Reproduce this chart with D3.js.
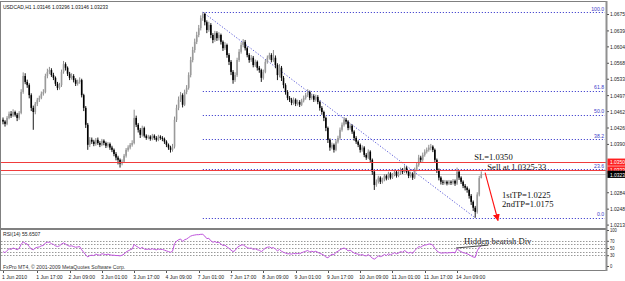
<!DOCTYPE html>
<html><head><meta charset="utf-8">
<script src="https://cdn.jsdelivr.net/npm/d3@7/dist/d3.min.js"></script>
<style>html,body{margin:0;padding:0;background:#fff;overflow:hidden}svg{display:block}</style>
</head><body>
<svg id="chart" width="625" height="281"></svg>
<script>
// ---------------- DATA ----------------
const titleText = "USDCAD,H1  1.03146 1.03296 1.03146 1.03233";
const copyrightText = "FxPro MT4, \u00A9 2001-2009 MetaQuotes Software Corp.";
const rsiTitle = "RSI(14) 55.6507";
const firstOpen = 1.0443;
const closes = [
1.0439,1.0434,1.0447,1.0456,1.0452,1.0460,1.0454,1.0447,1.0458,1.0504,
1.0539,1.0526,1.0519,1.0497,1.0469,1.0460,1.0478,1.0487,1.0491,1.0500,
1.0504,1.0539,1.0548,1.0552,1.0541,1.0535,1.0522,1.0513,1.0519,1.0548,
1.0565,1.0557,1.0544,1.0535,1.0539,1.0530,1.0522,1.0526,1.0530,1.0497,
1.0469,1.0432,1.0388,1.0399,1.0395,1.0390,1.0399,1.0392,1.0388,1.0397,
1.0392,1.0386,1.0390,1.0382,1.0377,1.0368,1.0360,1.0355,1.0347,1.0351,
1.0364,1.0377,1.0382,1.0388,1.0392,1.0447,1.0432,1.0421,1.0410,1.0425,
1.0408,1.0403,1.0406,1.0401,1.0408,1.0403,1.0399,1.0406,1.0403,1.0401,
1.0395,1.0388,1.0382,1.0377,1.0384,1.0443,1.0469,1.0487,1.0497,1.0476,
1.0504,1.0513,1.0541,1.0574,1.0596,1.0614,1.0629,1.0644,1.0666,1.0675,
1.0657,1.0640,1.0651,1.0629,1.0618,1.0633,1.0622,1.0629,1.0614,1.0600,
1.0607,1.0585,1.0570,1.0548,1.0530,1.0541,1.0574,1.0592,1.0607,1.0614,
1.0600,1.0585,1.0574,1.0579,1.0563,1.0570,1.0557,1.0552,1.0535,1.0548,
1.0570,1.0579,1.0585,1.0574,1.0579,1.0563,1.0541,1.0557,1.0535,1.0519,
1.0504,1.0491,1.0487,1.0480,1.0487,1.0478,1.0482,1.0476,1.0485,1.0491,
1.0497,1.0504,1.0491,1.0495,1.0487,1.0493,1.0482,1.0469,1.0460,1.0447,
1.0425,1.0399,1.0382,1.0388,1.0377,1.0395,1.0403,1.0421,1.0432,1.0443,
1.0439,1.0425,1.0430,1.0417,1.0403,1.0395,1.0388,1.0377,1.0382,1.0366,
1.0360,1.0373,1.0355,1.0329,1.0300,1.0307,1.0316,1.0307,1.0311,1.0320,
1.0314,1.0325,1.0316,1.0322,1.0329,1.0320,1.0325,1.0333,1.0329,1.0338,
1.0329,1.0320,1.0325,1.0316,1.0333,1.0344,1.0360,1.0355,1.0366,1.0373,
1.0377,1.0382,1.0384,1.0377,1.0355,1.0333,1.0316,1.0307,1.0305,1.0307,
1.0303,1.0307,1.0305,1.0309,1.0303,1.0329,1.0316,1.0307,1.0298,1.0294,
1.0289,1.0276,1.0263,1.0250,1.0241,1.0279,1.0315,1.03233];
const highs = [
1.0448,1.0442,1.0451,1.0461,1.0462,1.0466,1.0463,1.0458,1.0462,1.0510,
1.0547,1.0545,1.0531,1.0523,1.0501,1.0474,1.0482,1.0491,1.0496,1.0505,
1.0510,1.0544,1.0555,1.0559,1.0556,1.0546,1.0538,1.0526,1.0524,1.0553,
1.0572,1.0569,1.0560,1.0548,1.0545,1.0543,1.0534,1.0531,1.0536,1.0533,
1.0500,1.0473,1.0436,1.0405,1.0404,1.0399,1.0403,1.0404,1.0396,1.0401,
1.0400,1.0395,1.0394,1.0393,1.0386,1.0380,1.0372,1.0364,1.0358,1.0356,
1.0368,1.0381,1.0387,1.0392,1.0398,1.0465,1.0452,1.0436,1.0425,1.0430,
1.0428,1.0411,1.0410,1.0409,1.0412,1.0411,1.0407,1.0410,1.0409,1.0407,
1.0404,1.0398,1.0391,1.0386,1.0390,1.0450,1.0476,1.0494,1.0504,1.0501,
1.0509,1.0519,1.0547,1.0581,1.0603,1.0621,1.0636,1.0651,1.0672,1.0679,
1.0678,1.0661,1.0658,1.0655,1.0633,1.0638,1.0637,1.0635,1.0632,1.0617,
1.0613,1.0610,1.0589,1.0574,1.0552,1.0547,1.0579,1.0598,1.0613,1.0620,
1.0618,1.0604,1.0589,1.0585,1.0583,1.0575,1.0573,1.0561,1.0555,1.0553,
1.0575,1.0584,1.0590,1.0589,1.0596,1.0584,1.0567,1.0565,1.0561,1.0539,
1.0523,1.0508,1.0495,1.0491,1.0492,1.0490,1.0487,1.0486,1.0489,1.0496,
1.0502,1.0510,1.0507,1.0500,1.0499,1.0498,1.0497,1.0485,1.0473,1.0463,
1.0450,1.0428,1.0402,1.0393,1.0391,1.0400,1.0408,1.0426,1.0437,1.0449,
1.0447,1.0442,1.0435,1.0433,1.0420,1.0407,1.0398,1.0391,1.0387,1.0385,
1.0370,1.0378,1.0376,1.0358,1.0332,1.0312,1.0320,1.0319,1.0316,1.0324,
1.0323,1.0329,1.0328,1.0326,1.0334,1.0332,1.0330,1.0338,1.0337,1.0343,
1.0341,1.0332,1.0329,1.0328,1.0338,1.0350,1.0366,1.0364,1.0371,1.0378,
1.0382,1.0388,1.0390,1.0387,1.0380,1.0358,1.0336,1.0319,1.0311,1.0311,
1.0310,1.0311,1.0310,1.0313,1.0312,1.0338,1.0332,1.0319,1.0310,1.0302,
1.0297,1.0292,1.0280,1.0266,1.0254,1.0284,1.0320,1.03296];
const lows = [
1.0433,1.0428,1.0431,1.0444,1.0447,1.0449,1.0450,1.0440,1.0443,1.0455,
1.0500,1.0521,1.0513,1.0490,1.0462,1.0421,1.0455,1.0473,1.0482,1.0488,
1.0496,1.0501,1.0534,1.0543,1.0537,1.0530,1.0517,1.0508,1.0509,1.0515,
1.0544,1.0551,1.0539,1.0530,1.0531,1.0525,1.0517,1.0518,1.0522,1.0492,
1.0462,1.0425,1.0377,1.0383,1.0390,1.0385,1.0386,1.0388,1.0383,1.0385,
1.0387,1.0381,1.0382,1.0377,1.0372,1.0363,1.0354,1.0345,1.0338,1.0343,
1.0348,1.0360,1.0373,1.0378,1.0384,1.0389,1.0427,1.0415,1.0403,1.0406,
1.0404,1.0399,1.0400,1.0397,1.0398,1.0399,1.0395,1.0396,1.0399,1.0396,
1.0390,1.0383,1.0377,1.0371,1.0373,1.0380,1.0438,1.0464,1.0482,1.0470,
1.0473,1.0499,1.0509,1.0536,1.0569,1.0590,1.0609,1.0624,1.0639,1.0660,
1.0650,1.0633,1.0636,1.0622,1.0611,1.0614,1.0616,1.0617,1.0608,1.0594,
1.0596,1.0579,1.0563,1.0541,1.0522,1.0526,1.0537,1.0570,1.0588,1.0602,
1.0595,1.0580,1.0568,1.0570,1.0558,1.0559,1.0551,1.0546,1.0526,1.0531,
1.0545,1.0566,1.0575,1.0569,1.0570,1.0556,1.0530,1.0536,1.0528,1.0512,
1.0498,1.0486,1.0482,1.0475,1.0476,1.0473,1.0474,1.0471,1.0473,1.0481,
1.0487,1.0493,1.0486,1.0487,1.0482,1.0483,1.0477,1.0463,1.0454,1.0440,
1.0418,1.0392,1.0375,1.0378,1.0371,1.0374,1.0391,1.0399,1.0417,1.0428,
1.0433,1.0420,1.0421,1.0412,1.0397,1.0390,1.0383,1.0371,1.0373,1.0361,
1.0355,1.0357,1.0349,1.0322,1.0289,1.0296,1.0303,1.0302,1.0303,1.0308,
1.0310,1.0311,1.0312,1.0313,1.0319,1.0316,1.0317,1.0322,1.0324,1.0326,
1.0325,1.0315,1.0316,1.0311,1.0313,1.0330,1.0340,1.0350,1.0351,1.0362,
1.0369,1.0373,1.0376,1.0372,1.0349,1.0326,1.0310,1.0301,1.0300,1.0301,
1.0299,1.0300,1.0300,1.0301,1.0298,1.0300,1.0311,1.0302,1.0293,1.0288,
1.0283,1.0270,1.0256,1.0243,1.0228,1.0237,1.0275,1.03146];
const rsiValues = [
40,37,43,48,46,50,48,45,49,60,
67,63,61,54,47,45,50,52,53,56,
57,64,66,66,62,60,56,54,56,61,
64,61,57,55,56,54,52,53,54,45,
38,31,25,29,30,29,33,31,30,34,
33,31,33,31,30,30,29,29,28,30,
33,39,42,45,47,60,55,52,48,52,
47,46,47,46,48,46,45,47,46,46,
44,42,40,38,41,62,69,73,75,68,
73,75,79,83,85,86,87,87,88,88,
83,76,77,70,66,68,65,66,61,57,
58,53,49,44,40,43,51,55,58,59,
55,51,49,50,46,48,45,44,40,44,
50,52,53,50,51,47,42,46,41,38,
36,34,34,33,35,34,35,34,37,39,
41,43,39,41,39,41,38,35,33,30,
25,23,28,33,31,38,41,45,48,50,
47,42,44,40,36,34,33,30,32,29,
28,32,27,22,19,23,28,26,28,32,
29,34,31,34,37,34,36,40,38,43,
39,36,38,35,43,48,54,52,56,58,
59,61,61,58,49,42,38,36,36,37,
36,37,37,38,36,48,43,40,37,36,
34,31,28,25,24,42,52,55.6507];
const priceTicks = [1.06750,1.06390,1.06040,1.05680,1.05330,1.04970,1.04620,1.04260,1.03900,1.03550,1.03190,1.02840,1.02480,1.02130];
const timeTickBars = [0,17,33,49,65,81,97,113,129,145,161,177,193,209,225];
const timeTickLabels = ["1 Jun 2010","1 Jun 17:00","2 Jun 09:00","3 Jun 01:00","3 Jun 17:00","4 Jun 09:00","7 Jun 01:00","7 Jun 17:00","8 Jun 09:00","9 Jun 01:00","9 Jun 17:00","10 Jun 09:00","11 Jun 01:00","11 Jun 17:00","14 Jun 09:00"];
const fibStart = {bar: 99, price: 1.0679};
const fibEnd = {bar: 234, price: 1.0228};
const fibLevels = [0.0, 23.6, 38.2, 50.0, 61.8, 100.0];
const slPrice = 1.0350, sellPrice = 1.0333, bidPrice = 1.03233;
const lineLabels = ["1.03500","1.03330","1.03233"];
const rsiLevels = [70, 60, 50, 40, 30];
const rsiAxisTicks = [100, 70, 50, 30, 0];
const notes = ["SL=1.0350","Sell at 1.0325-33","1stTP=1.0225","2ndTP=1.0175","Hidden bearish Div"];

// ---------------- SCALES ----------------
const svg = d3.select("#chart");
const W = 625, H = 281;
const plotL = 1, plotR = 606, mainT = 2, mainB = 228, rsiT = 230, rsiB = 270;
const nBars = closes.length;
const x = d3.scaleLinear().domain([0, nBars - 1]).range([3, 3 + (nBars - 1) * 2.018]);
const y = d3.scaleLinear().domain([1.02130, 1.06750]).range([224.6, 14]);
const ry = d3.scaleLinear().domain([0, 100]).range([266, 230]);
const sansFont = "'Liberation Sans', Arial, sans-serif";
const serifFont = "'Liberation Serif', 'Times New Roman', serif";

svg.append("rect").attr("width", W).attr("height", H).attr("fill", "#fff");
const defs = svg.append("defs");
defs.append("clipPath").attr("id", "mainClip").append("rect")
  .attr("x", plotL).attr("y", mainT).attr("width", plotR - plotL).attr("height", mainB - mainT);
defs.append("clipPath").attr("id", "rsiClip").append("rect")
  .attr("x", plotL).attr("y", rsiT).attr("width", plotR - plotL).attr("height", rsiB - rsiT);
defs.append("marker").attr("id", "arrowRed").attr("viewBox", "0 0 10 10")
  .attr("refX", 9).attr("refY", 5).attr("markerWidth", 7).attr("markerHeight", 7)
  .attr("markerUnits", "userSpaceOnUse").attr("orient", "auto")
  .append("path").attr("d", "M0,0 L10,5 L0,10 z").attr("fill", "#ff1010");

function squeeze(sel, k) {
  sel.each(function () {
    const L = this.getComputedTextLength();
    if (L > 0) d3.select(this).attr("textLength", L * k).attr("lengthAdjust", "spacingAndGlyphs");
  });
}

// ---------------- MAIN PANEL ----------------
const main = svg.append("g").attr("clip-path", "url(#mainClip)");

const fibRange = fibStart.price - fibEnd.price;
const fibG = main.append("g");
fibLevels.forEach(lv => {
  const p = fibEnd.price + fibRange * lv / 100;
  const yy = Math.round(y(p)) + 0.5;
  fibG.append("line").attr("x1", x(fibStart.bar)).attr("x2", plotR - 1)
    .attr("y1", yy).attr("y2", yy)
    .attr("stroke", "#4848d0").attr("stroke-width", 1).attr("stroke-dasharray", "1.2,1.8");
});
fibG.append("line").attr("x1", x(fibStart.bar)).attr("y1", y(fibStart.price))
  .attr("x2", x(fibEnd.bar)).attr("y2", y(fibEnd.price))
  .attr("stroke", "#5a5ad8").attr("stroke-width", 1).attr("stroke-dasharray", "1.2,1.8");

main.append("line").attr("x1", plotL).attr("x2", plotR)
  .attr("y1", Math.round(y(bidPrice)) + 0.5).attr("y2", Math.round(y(bidPrice)) + 0.5)
  .attr("stroke", "#c8c8c8").attr("stroke-width", 1);

const bars = closes.map((c, i) => ({i, o: i === 0 ? firstOpen : closes[i - 1], c, h: highs[i], l: lows[i]}));
const cg = main.append("g");
cg.selectAll("line.wick").data(bars).join("line").attr("class", "wick")
  .attr("x1", d => x(d.i)).attr("x2", d => x(d.i))
  .attr("y1", d => y(d.h)).attr("y2", d => y(d.l))
  .attr("stroke", d => d.c >= d.o ? "#8c8c8c" : "#1a1a1a").attr("stroke-width", 1);
cg.selectAll("rect.body").data(bars).join("rect").attr("class", "body")
  .attr("x", d => x(d.i) - 0.8).attr("width", 1.6)
  .attr("y", d => y(Math.max(d.o, d.c)))
  .attr("height", d => Math.max(1, Math.abs(y(d.o) - y(d.c))))
  .attr("fill", d => d.c >= d.o ? "#9a9a9a" : "#000");

[slPrice, sellPrice].forEach(p => {
  const yy = Math.round(y(p)) + 0.5;
  main.append("line").attr("x1", plotL).attr("x2", plotR).attr("y1", yy).attr("y2", yy)
    .attr("stroke", "#f03c3c").attr("stroke-width", 1);
});

fibLevels.forEach(lv => {
  const p = fibEnd.price + fibRange * lv / 100;
  main.append("text").attr("x", plotR - 2).attr("y", y(p) - 1.5)
    .attr("text-anchor", "end").attr("font-family", sansFont).attr("font-size", 6)
    .attr("fill", "#3a3ac8").text(lv.toFixed(1)).call(squeeze, 0.85);
});

const noteG = svg.append("g").attr("font-family", serifFont).attr("font-size", 8.6).attr("fill", "#111");
noteG.append("text").attr("x", x(233.5)).attr("y", y(slPrice) - 2.5).text(notes[0]);
noteG.append("text").attr("x", x(240)).attr("y", y(sellPrice) + 0.5).text(notes[1]);
noteG.append("text").attr("x", x(247.3)).attr("y", y(1.0284) + 6).text(notes[2]);
noteG.append("text").attr("x", x(247.3)).attr("y", y(1.0264) + 6).text(notes[3]);
svg.append("line").attr("x1", x(238.9)).attr("y1", y(1.0327))
  .attr("x2", x(245.3)).attr("y2", y(1.0222))
  .attr("stroke", "#ff1010").attr("stroke-width", 1.1).attr("marker-end", "url(#arrowRed)");

// ---------------- RSI PANEL ----------------
const rsiG = svg.append("g").attr("clip-path", "url(#rsiClip)");
rsiLevels.forEach(lv => {
  const yy = Math.round(ry(lv)) + 0.5;
  rsiG.append("line").attr("x1", plotL).attr("x2", plotR).attr("y1", yy).attr("y2", yy)
    .attr("stroke", "#9a9a9a").attr("stroke-width", 1).attr("stroke-dasharray", "1.5,1.5");
});
rsiG.append("path").datum(rsiValues)
  .attr("d", d3.line().x((d, i) => x(i)).y(d => ry(d)))
  .attr("fill", "none").attr("stroke", "#bf55dc").attr("stroke-width", 1);
rsiG.append("line").attr("x1", x(224.5)).attr("y1", ry(50)).attr("x2", x(240.5)).attr("y2", ry(58))
  .attr("stroke", "#444").attr("stroke-width", 1);
noteG.append("text").attr("x", x(228.5)).attr("y", ry(61.5)).text(notes[4]);

svg.append("text").attr("x", 3).attr("y", 235.5).attr("font-family", sansFont).attr("font-size", 6)
  .attr("fill", "#222").text(rsiTitle).call(squeeze, 0.85);
svg.append("text").attr("x", 3).attr("y", 269).attr("font-family", sansFont).attr("font-size", 6)
  .attr("fill", "#333").text(copyrightText).call(squeeze, 0.85);

// ---------------- FRAMES ----------------
const frame = svg.append("g").attr("fill", "none").attr("stroke", "#808080").attr("stroke-width", 1);
frame.append("line").attr("x1", 0.5).attr("x2", 0.5).attr("y1", 1).attr("y2", rsiB + 1);
frame.append("line").attr("x1", 0).attr("x2", plotR).attr("y1", 1.5).attr("y2", 1.5);
frame.append("line").attr("x1", 0).attr("x2", plotR).attr("y1", mainB + 0.5).attr("y2", mainB + 0.5);
frame.append("line").attr("x1", 0).attr("x2", plotR).attr("y1", rsiT - 0.5).attr("y2", rsiT - 0.5);
frame.append("line").attr("x1", 0).attr("x2", plotR + 1).attr("y1", rsiB + 0.5).attr("y2", rsiB + 0.5);
frame.append("line").attr("x1", plotR + 0.5).attr("x2", plotR + 0.5).attr("y1", 1).attr("y2", rsiB + 1)
  .attr("stroke", "#909090").attr("stroke-width", 2);

svg.append("text").attr("x", 3).attr("y", 9).attr("font-family", sansFont).attr("font-size", 6)
  .attr("fill", "#111").text(titleText).call(squeeze, 0.82);

// ---------------- AXES ----------------
const boxPrices = [slPrice, sellPrice, bidPrice];
const visibleTicks = priceTicks.filter(t => boxPrices.every(b => Math.abs(y(t) - y(b)) > 5));
const yAxis = d3.axisRight(y).tickValues(visibleTicks).tickSize(2).tickPadding(1)
  .tickFormat(d3.format(".5f"));
const ya = svg.append("g").attr("transform", `translate(${plotR + 1},0)`).call(yAxis);
ya.select(".domain").remove();
ya.selectAll("line").attr("stroke", "#555");
ya.selectAll("text").attr("font-family", sansFont).attr("font-size", 6).attr("fill", "#222").call(squeeze, 0.82);

const boxG = svg.append("g");
[[slPrice, "#ff2020"], [sellPrice, "#ff2020"], [bidPrice, "#000"]].forEach((b, k) => {
  const yy = y(b[0]);
  boxG.append("rect").attr("x", plotR + 1.5).attr("y", yy - 3.6).attr("width", W - plotR).attr("height", 7.2).attr("fill", b[1]);
  boxG.append("text").attr("x", plotR + 4).attr("y", yy + 2.2).attr("font-family", sansFont).attr("font-size", 6)
    .attr("fill", "#fff").text(lineLabels[k]).call(squeeze, 0.82);
});

const rAxis = d3.axisRight(ry).tickValues(rsiAxisTicks).tickSize(2).tickPadding(1)
  .tickFormat(d3.format("d"));
const ra = svg.append("g").attr("transform", `translate(${plotR + 1},0)`).call(rAxis);
ra.select(".domain").remove();
ra.selectAll("line").attr("stroke", "#555");
ra.selectAll("text").attr("font-family", sansFont).attr("font-size", 5).attr("fill", "#222").call(squeeze, 0.82);

const tg = svg.append("g");
timeTickBars.forEach((b, k) => {
  const xx = Math.round(x(b)) + 0.5;
  tg.append("line").attr("x1", xx).attr("x2", xx).attr("y1", rsiB + 1).attr("y2", rsiB + 3).attr("stroke", "#555");
  tg.append("text").attr("x", x(b) - 1).attr("y", 279).attr("font-family", sansFont).attr("font-size", 6)
    .attr("fill", "#222").text(timeTickLabels[k]).call(squeeze, 0.84);
});
</script>
</body></html>
